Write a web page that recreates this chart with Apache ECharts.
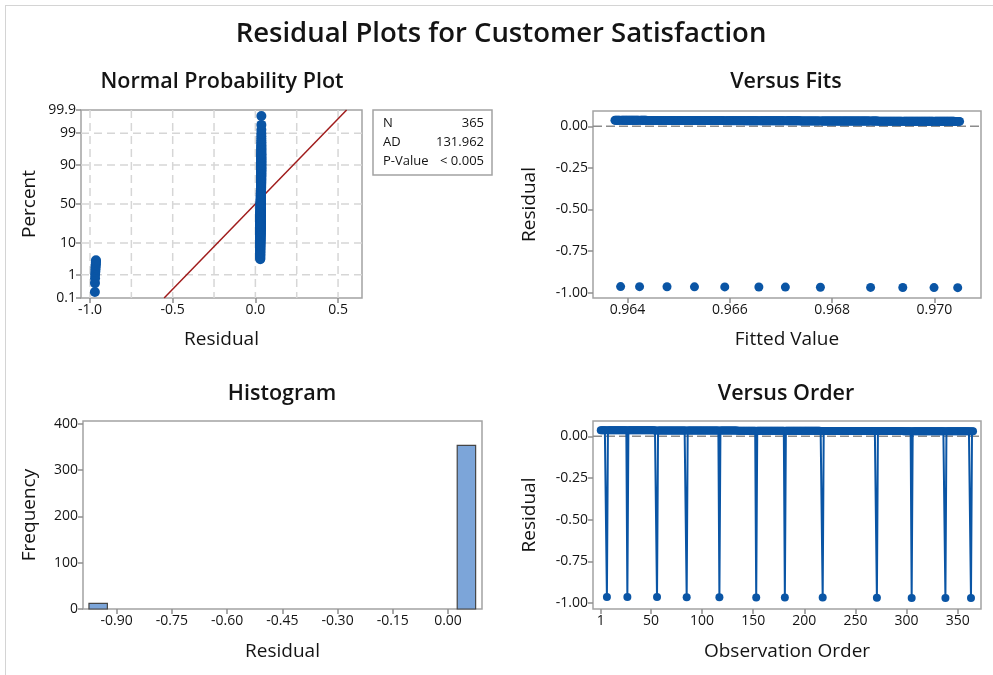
<!DOCTYPE html>
<html>
<head>
<meta charset="utf-8">
<title>Residual Plots for Customer Satisfaction</title>
<script src="https://cdn.jsdelivr.net/npm/echarts@6/dist/echarts.min.js"></script>
<style>
  html, body { margin: 0; padding: 0; background: #ffffff; }
  #chart { width: 993px; height: 675px; }
</style>
</head>
<body>
<div id="chart"></div>
<script>
// ---- Data -------------------------------------------------------------
// Daily satisfaction flag (1 = satisfied, 0 = not), observed on days 1..365
const observationCount = 365;
const dissatisfiedDays = [7, 27, 56, 85, 117, 153, 181, 218, 271, 305, 338, 363];

// Anderson-Darling normality test summary
const adStatistic = '131.962';
const pValueText = '< 0.005';

// ---- Tick labels ------------------------------------------------------
const percentTicks = [0.1, 1, 10, 50, 90, 99, 99.9];
const percentGrid = [1, 10, 50, 90, 99];
const nppResidualTicks = [-1.0, -0.5, 0.0, 0.5];
const nppResidualGrid = [-1.0, -0.75, -0.5, -0.25, 0.0, 0.25, 0.5];
const fitTicks = [0.964, 0.966, 0.968, 0.970];
const residualTicks = [0.0, -0.25, -0.5, -0.75, -1.0];
const histResidualTicks = [-0.90, -0.75, -0.60, -0.45, -0.30, -0.15, 0.00];
const frequencyTicks = [0, 100, 200, 300, 400];
const orderTicks = [1, 50, 100, 150, 200, 250, 300, 350];
const histBinWidth = 0.05;

// ---- Least-squares fit of satisfaction on observation order ----------
const days = [];
const satisfaction = [];
for (let d = 1; d <= observationCount; d++) {
  days.push(d);
  satisfaction.push(dissatisfiedDays.includes(d) ? 0 : 1);
}
const mean = arr => arr.reduce((s, v) => s + v, 0) / arr.length;
const mx = mean(days), my = mean(satisfaction);
let sxy = 0, sxx = 0;
days.forEach((x, i) => { sxy += (x - mx) * (satisfaction[i] - my); sxx += (x - mx) * (x - mx); });
const slope = sxy / sxx;
const intercept = my - slope * mx;
const fitted = days.map(d => intercept + slope * d);
const residuals = satisfaction.map((y, i) => y - fitted[i]);

// Inverse standard normal CDF (Acklam)
function normInv(p) {
  const a = [-3.969683028665376e+01, 2.209460984245205e+02, -2.759285104469687e+02, 1.383577518672690e+02, -3.066479806614716e+01, 2.506628277459239e+00];
  const b = [-5.447609879822406e+01, 1.615858368580409e+02, -1.556989798598866e+02, 6.680131188771972e+01, -1.328068155288572e+01];
  const c = [-7.784894002430293e-03, -3.223964580411365e-01, -2.400758277161838e+00, -2.549732539343734e+00, 4.374664141464968e+00, 2.938163982698783e+00];
  const d = [7.784695709041462e-03, 3.224671290700398e-01, 2.445134137142996e+00, 3.754408661907416e+00];
  const pl = 0.02425, ph = 1 - pl;
  let q, r;
  if (p < pl) {
    q = Math.sqrt(-2 * Math.log(p));
    return (((((c[0]*q+c[1])*q+c[2])*q+c[3])*q+c[4])*q+c[5]) / ((((d[0]*q+d[1])*q+d[2])*q+d[3])*q+1);
  }
  if (p <= ph) {
    q = p - 0.5; r = q * q;
    return (((((a[0]*r+a[1])*r+a[2])*r+a[3])*r+a[4])*r+a[5])*q / (((((b[0]*r+b[1])*r+b[2])*r+b[3])*r+b[4])*r+1);
  }
  q = Math.sqrt(-2 * Math.log(1 - p));
  return -(((((c[0]*q+c[1])*q+c[2])*q+c[3])*q+c[4])*q+c[5]) / ((((d[0]*q+d[1])*q+d[2])*q+d[3])*q+1);
}

// Normal probability plot: sorted residuals against median-rank scores
const n = residuals.length;
const sortedRes = residuals.slice().sort((p, q) => p - q);
const nppPoints = sortedRes.map((r, i) => [r, normInv((i + 1 - 0.3) / (n + 0.4))]);
const resMean = mean(residuals);
const resSd = Math.sqrt(residuals.reduce((s, v) => s + (v - resMean) ** 2, 0) / (n - 1));
const zLo = normInv(0.001), zHi = normInv(0.999);
const fitLine = [[resMean + resSd * zLo, zLo], [resMean + resSd * zHi, zHi]];
const percentZ = percentTicks.map(p => normInv(p / 100));
const percentGridZ = percentGrid.map(p => normInv(p / 100));

// Histogram bins centred on multiples of the bin width
const binCounts = {};
residuals.forEach(r => {
  const k = Math.round(r / histBinWidth);
  binCounts[k] = (binCounts[k] || 0) + 1;
});
const histBins = Object.keys(binCounts).map(k => {
  const c = Number(k) * histBinWidth;
  return [c - histBinWidth / 2, c + histBinWidth / 2, binCounts[k]];
});

// ---- Styling ----------------------------------------------------------
const FONT = '"Open Sans", "Noto Sans", sans-serif';
const TEXT = '#141414';
const BLUE = '#0a55a5';
const BOX = '#a3a3a3';
const GRIDLINE = '#d6d6d6';

function valueAxis(gridIndex, min, max, ticks, formatter, name, nameGap) {
  return {
    type: 'value', gridIndex, min, max,
    axisLine: { show: false, onZero: false },
    axisTick: { show: true, customValues: ticks, length: 5, lineStyle: { color: '#8f8f8f', width: 1.5 } },
    axisLabel: { customValues: ticks, formatter, color: TEXT, fontSize: 14, fontFamily: FONT, margin: 5 },
    splitLine: { show: false },
    name, nameLocation: 'middle', nameGap,
    nameTextStyle: { color: TEXT, fontSize: 19, fontFamily: FONT }
  };
}

const chart = echarts.init(document.getElementById('chart'), null, { renderer: 'canvas' });

// Full-width / full-height reference lines inside one grid
function gridLineSeries(axisIdx, values, dir, style) {
  return {
    type: 'custom', xAxisIndex: axisIdx, yAxisIndex: axisIdx, silent: true, z: 1,
    data: values.map(v => [v]),
    renderItem(params, api) {
      const cs = params.coordSys;
      const v = api.value(0);
      let shape;
      if (dir === 'h') {
        const py = chart.convertToPixel({ yAxisIndex: axisIdx }, v);
        shape = { x1: cs.x, y1: py, x2: cs.x + cs.width, y2: py };
      } else {
        const px = chart.convertToPixel({ xAxisIndex: axisIdx }, v);
        shape = { x1: px, y1: cs.y, x2: px, y2: cs.y + cs.height };
      }
      return { type: 'line', shape, style: Object.assign({ fill: null }, style) };
    }
  };
}

const fmt = d => v => v.toFixed(d);
const percentLabel = v => {
  const i = percentZ.findIndex(z => Math.abs(z - v) < 1e-6);
  return i >= 0 ? String(percentTicks[i]) : '';
};

const dashGrid = { stroke: GRIDLINE, lineWidth: 1.5, lineDash: [8, 5] };
const zeroRef = { stroke: '#8c8c8c', lineWidth: 1.5, lineDash: [9, 4] };
const subTitle = (text, x, y) => ({
  type: 'text', x, y,
  style: { text, fontSize: 21.5, fontWeight: 600, fontFamily: FONT, fill: TEXT, align: 'center', verticalAlign: 'middle' }
});
const statText = (text, x, y, align) => ({
  type: 'text', x, y,
  style: { text, fontSize: 13, fontFamily: FONT, fill: TEXT, align, verticalAlign: 'middle' }
});

const option = {
  animation: false,
  backgroundColor: '#ffffff',
  grid: [
    { left: 81, top: 110, width: 281, height: 188 },
    { left: 593, top: 111, width: 388, height: 187 },
    { left: 83, top: 421, width: 399, height: 188 },
    { left: 593, top: 421, width: 388, height: 188 }
  ].map(g => Object.assign({ show: true, borderColor: BOX, borderWidth: 1.5, backgroundColor: '#fff' }, g)),
  xAxis: [
    valueAxis(0, -1.0545, 0.6448, nppResidualTicks, fmt(1), 'Residual', 32),
    valueAxis(1, 0.963326, 0.97091, fitTicks, fmt(3), 'Fitted Value', 32),
    valueAxis(2, -0.9912, 0.0923, histResidualTicks, fmt(2), 'Residual', 33),
    valueAxis(3, -6.6, 372.8, orderTicks, v => String(v), 'Observation Order', 33)
  ],
  yAxis: [
    valueAxis(0, zLo - 1e-6, zHi + 1e-6, percentZ, percentLabel, 'Percent', 42),
    valueAxis(1, -1.0325, 0.092, residualTicks, fmt(2), 'Residual', 54),
    valueAxis(2, 0, 405.6, frequencyTicks, v => String(v), 'Frequency', 44),
    valueAxis(3, -1.036, 0.0915, residualTicks, fmt(2), 'Residual', 54)
  ],
  series: [
    gridLineSeries(0, percentGridZ, 'h', dashGrid),
    gridLineSeries(0, nppResidualGrid, 'v', dashGrid),
    {
      type: 'line', xAxisIndex: 0, yAxisIndex: 0, data: fitLine, symbol: 'none', z: 3,
      lineStyle: { color: '#a01c1c', width: 1.5 }, silent: true
    },
    {
      type: 'scatter', xAxisIndex: 0, yAxisIndex: 0, data: nppPoints, symbol: 'circle', symbolSize: 10, z: 4,
      itemStyle: { color: BLUE, opacity: 1 }
    },
    gridLineSeries(1, [0], 'h', zeroRef),
    {
      type: 'scatter', xAxisIndex: 1, yAxisIndex: 1, data: fitted.map((f, i) => [f, residuals[i]]),
      symbol: 'circle', symbolSize: 9, z: 4, itemStyle: { color: BLUE, opacity: 1 }
    },
    {
      type: 'custom', xAxisIndex: 2, yAxisIndex: 2, data: histBins, z: 3,
      encode: { x: [0, 1], y: 2 },
      renderItem(params, api) {
        const p0 = api.coord([api.value(0), api.value(2)]);
        const p1 = api.coord([api.value(1), 0]);
        return {
          type: 'rect',
          shape: { x: p0[0], y: p0[1], width: p1[0] - p0[0], height: p1[1] - p0[1] },
          style: { fill: '#7ca5d9', stroke: '#454545', lineWidth: 1.2 }
        };
      }
    },
    gridLineSeries(3, [0], 'h', zeroRef),
    {
      type: 'line', xAxisIndex: 3, yAxisIndex: 3, data: days.map((d, i) => [d, residuals[i]]),
      symbol: 'circle', symbolSize: 8, showSymbol: true, showAllSymbol: true, z: 4,
      lineStyle: { color: BLUE, width: 2 }, itemStyle: { color: BLUE, opacity: 1 }
    }
  ],
  graphic: [
    { type: 'line', shape: { x1: 5, y1: 5.5, x2: 993, y2: 5.5 }, style: { stroke: '#d4d4d4', lineWidth: 1 } },
    { type: 'line', shape: { x1: 5.5, y1: 5, x2: 5.5, y2: 675 }, style: { stroke: '#d4d4d4', lineWidth: 1 } },
    { type: 'text', x: 501, y: 34, style: { text: 'Residual Plots for Customer Satisfaction', fontSize: 27.5, fontWeight: 600, fontFamily: FONT, fill: TEXT, align: 'center', verticalAlign: 'middle' } },
    subTitle('Normal Probability Plot', 222, 82),
    subTitle('Versus Fits', 786, 82),
    subTitle('Histogram', 282, 394),
    subTitle('Versus Order', 786, 394),
    { type: 'rect', shape: { x: 373, y: 110, width: 119, height: 65 }, style: { fill: '#fff', stroke: BOX, lineWidth: 1.5 } },
    statText('N', 383, 123, 'left'),
    statText(String(n), 484, 123, 'right'),
    statText('AD', 383, 142, 'left'),
    statText(adStatistic, 484, 142, 'right'),
    statText('P-Value', 383, 161, 'left'),
    statText(pValueText, 484, 161, 'right')
  ]
};

chart.setOption(option);
</script>
</body>
</html>
